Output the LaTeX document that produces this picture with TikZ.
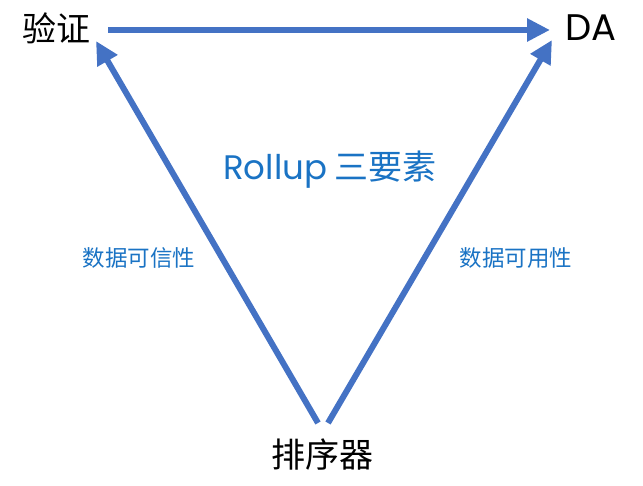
\documentclass[tikz,border=0pt]{standalone}
\usepackage{fontspec}
\setmainfont{Noto Sans CJK SC}
\newfontfamily\latinf{Poppins}
\usetikzlibrary{arrows.meta}
\definecolor{arrowblue}{HTML}{4472C4}
\definecolor{textblue}{HTML}{1A73C4}
\begin{document}
\begin{tikzpicture}[x=1pt,y=-1pt,
  conn/.style={draw=arrowblue,line width=6pt,-{Triangle[length=23pt,width=22pt]}},
  bigtxt/.style={font=\fontsize{34}{38}\selectfont,inner sep=0pt},
  lbl/.style={text=textblue,font=\fontsize{22.5}{26}\selectfont,inner sep=0pt}]
\useasboundingbox (0,0) rectangle (643,486);
\node[bigtxt] (yz) at (57,28) {验证};
\node[bigtxt,font=\fontsize{37}{40}\selectfont] (da) at (591,28) {\latinf DA};
\node[bigtxt] (px) at (322,455) {排序器};
\node[text=textblue,font=\fontsize{34}{38}\selectfont,inner sep=0pt] (title) at (330,170) {{\latinf Rollup} 三要素};
\node[lbl] (kx) at (139,258) {数据可信性};
\node[lbl] (ky) at (516,258) {数据可用性};
\coordinate (h1) at (108,30);
\coordinate (h2) at (550,30);
\coordinate (l1) at (318,423);
\coordinate (l2) at (96,41);
\coordinate (r1) at (328,423);
\coordinate (r2) at (552,40);
\draw[conn] (h1) -- (h2);
\draw[conn] (l1) -- (l2);
\draw[conn] (r1) -- (r2);
\end{tikzpicture}
\end{document}
